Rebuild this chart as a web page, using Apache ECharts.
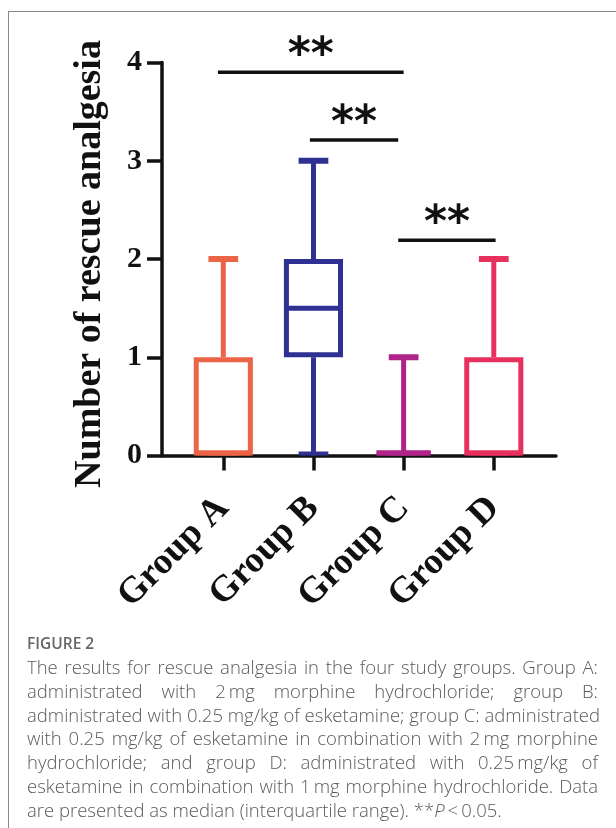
<!DOCTYPE html>
<html>
<head>
<meta charset="utf-8">
<script src="https://cdn.jsdelivr.net/npm/echarts@6/dist/echarts.min.js"></script>
<style>
html,body{margin:0;padding:0;background:#fff;}
#wrap{position:relative;width:616px;height:828px;overflow:hidden;background:#fff;}
#chart{position:absolute;left:0;top:0;width:616px;height:828px;}
#cap{position:absolute;left:27px;top:631px;width:571px;font-family:'Open Sans',sans-serif;color:#5a5a5a;font-weight:300;}
#cap .fig{font-size:15.5px;line-height:24px;font-weight:600;color:#666;}
#cap .l{font-size:18.5px;line-height:23.8px;white-space:nowrap;text-align:justify;text-align-last:justify;}
#cap .last{text-align:left;text-align-last:left;}
</style>
</head>
<body>
<div id="wrap">
<div id="chart"></div>
<div id="cap">
<div class="fig">FIGURE 2</div>
<div class="l">The results for rescue analgesia in the four study groups. Group A:</div>
<div class="l">administrated with 2&#8201;mg morphine hydrochloride; group B:</div>
<div class="l">administrated with 0.25 mg/kg of esketamine; group C: administrated</div>
<div class="l">with 0.25 mg/kg of esketamine in combination with 2&#8201;mg morphine</div>
<div class="l">hydrochloride; and group D: administrated with 0.25&#8201;mg/kg of</div>
<div class="l">esketamine in combination with 1&#8201;mg morphine hydrochloride. Data</div>
<div class="l last">are presented as median (interquartile range). **<i>P</i>&#8201;&lt;&#8201;0.05.</div>
</div>
</div>
<script>
// ---- data ----
const categories = ['Group A', 'Group B', 'Group C', 'Group D'];
const minVals    = [0, 0, 0, 0];
const q1Vals     = [0, 1, 0, 0];
const medianVals = [0, 1.5, 0, 0];
const q3Vals     = [1, 2, 0, 1];
const maxVals    = [2, 3, 1, 2];
const yTicks     = [0, 1, 2, 3, 4];
// significance brackets (x extents in group-index units, y level in data units)
const sigFrom   = [-0.06, 0.96, 1.94];
const sigTo     = [2.0, 1.94, 3.02];
const sigLevel  = [3.9, 3.21, 2.19];
const sigLabels = ['**', '**', '**'];

const groupColors = ['#EB6447', '#2E3192', '#B0248A', '#E8305F'];
const SERIF = "'Liberation Serif','Times New Roman',serif";

const boxData = categories.map((c, i) => [i, minVals[i], q1Vals[i], medianVals[i], q3Vals[i], maxVals[i]]);
const sigData = sigFrom.map((f, i) => [f, sigTo[i], sigLevel[i], sigLabels[i]]);
const catIdx = categories.map((c, i) => i);

const chart = echarts.init(document.getElementById('chart'), null, {renderer: 'canvas'});

function renderBox(params, api) {
  const i = api.value(0);
  const vMin = api.value(1), vQ1 = api.value(2), vMed = api.value(3), vQ3 = api.value(4), vMax = api.value(5);
  const color = groupColors[i];
  const cx = api.coord([i, 0])[0];
  const half = api.size([0.6, 0])[0] / 2;
  const capHalf = api.size([0.33, 0])[0] / 2;
  const lw = 5;
  const yMin = api.coord([i, vMin])[1];
  const yQ1 = api.coord([i, vQ1])[1];
  const yMed = api.coord([i, vMed])[1];
  const yQ3 = api.coord([i, vQ3])[1];
  const yMax = api.coord([i, vMax])[1];
  let top = yQ3 + lw / 2, bottom = yQ1 - lw / 2;
  if (bottom < top) { top = bottom; }
  const st = {stroke: color, lineWidth: lw, fill: null, lineCap: 'butt'};
  const children = [];
  if (vMax > vQ3) {
    children.push({type: 'line', shape: {x1: cx, y1: yQ3, x2: cx, y2: yMax}, style: st});
  }
  children.push({type: 'line', shape: {x1: cx - capHalf, y1: yMax, x2: cx + capHalf, y2: yMax}, style: Object.assign({}, st, {lineWidth: 6})});
  if (vQ1 > vMin) {
    children.push({type: 'line', shape: {x1: cx, y1: yQ1, x2: cx, y2: yMin}, style: st});
  }
  children.push({type: 'line', shape: {x1: cx - capHalf, y1: yMin - 2, x2: cx + capHalf, y2: yMin - 2}, style: Object.assign({}, st, {lineWidth: 4})});
  children.push({type: 'rect', shape: {x: cx - half, y: top, width: half * 2, height: bottom - top}, style: {stroke: color, lineWidth: lw, fill: '#fff'}});
  const ym = Math.min(Math.max(yMed, top), bottom);
  children.push({type: 'line', shape: {x1: cx - half, y1: ym, x2: cx + half, y2: ym}, style: st});
  return {type: 'group', children: children};
}

function renderSig(params, api) {
  const p1 = api.coord([api.value(0), api.value(2)]);
  const p2 = api.coord([api.value(1), api.value(2)]);
  const label = sigLabels[params.dataIndex];
  return {
    type: 'group',
    children: [
      {type: 'line', shape: {x1: p1[0], y1: p1[1], x2: p2[0], y2: p2[1]}, style: {stroke: '#111', lineWidth: 3.5}},
      {type: 'text', style: {x: (p1[0] + p2[0]) / 2, y: p1[1] - 16, text: label, fill: '#111',
        font: "bold 44px 'DejaVu Sans', sans-serif", align: 'center', verticalAlign: 'middle'}}
    ]
  };
}

const option = {
  backgroundColor: '#fff',
  animation: false,
  graphic: [
    {type: 'line', shape: {x1: 8, y1: 11.5, x2: 616, y2: 11.5}, style: {stroke: '#888', lineWidth: 1}, silent: true},
    {type: 'line', shape: {x1: 8.5, y1: 11.5, x2: 8.5, y2: 828}, style: {stroke: '#888', lineWidth: 1}, silent: true}
  ],
  grid: {left: 162, right: 60, top: 62.5, bottom: 372.5, containLabel: false},
  xAxis: {
    type: 'value', min: -0.68, max: 3.69,
    axisLine: {show: true, onZero: false, lineStyle: {color: '#111', width: 3.5}},
    axisTick: {show: true, customValues: catIdx, length: 15, lineStyle: {color: '#111', width: 3.5}},
    axisLabel: {
      show: true, customValues: catIdx, formatter: v => categories[Math.round(v)] || '',
      rotate: 45, margin: 47, color: '#111', fontFamily: SERIF, fontWeight: 'bold', fontSize: 37,
      align: 'right', verticalAlign: 'middle'
    },
    splitLine: {show: false}
  },
  yAxis: {
    type: 'value', min: 0, max: 4, interval: 1,
    name: 'Number of rescue analgesia', nameLocation: 'middle', nameRotate: 90, nameGap: 53,
    nameTextStyle: {color: '#111', fontFamily: SERIF, fontWeight: 'bold', fontSize: 38, padding: [0, 10, 0, 0]},
    axisLine: {show: true, onZero: false, lineStyle: {color: '#111', width: 3.5}},
    axisTick: {show: true, length: 15, lineStyle: {color: '#111', width: 3.5}},
    axisLabel: {color: '#111', fontFamily: SERIF, fontWeight: 'bold', fontSize: 30, margin: 20,
      formatter: v => (yTicks.indexOf(v) >= 0 ? String(v) : '')},
    splitLine: {show: false}
  },
  series: [
    {type: 'custom', name: 'box', renderItem: renderBox, data: boxData, clip: false, z: 3,
      encode: {x: 0, y: [1, 2, 3, 4, 5]}},
    {type: 'custom', name: 'sig', renderItem: renderSig, data: sigData, clip: false, z: 3,
      encode: {x: [0, 1], y: 2}}
  ]
};
chart.setOption(option);
</script>
</body>
</html>
